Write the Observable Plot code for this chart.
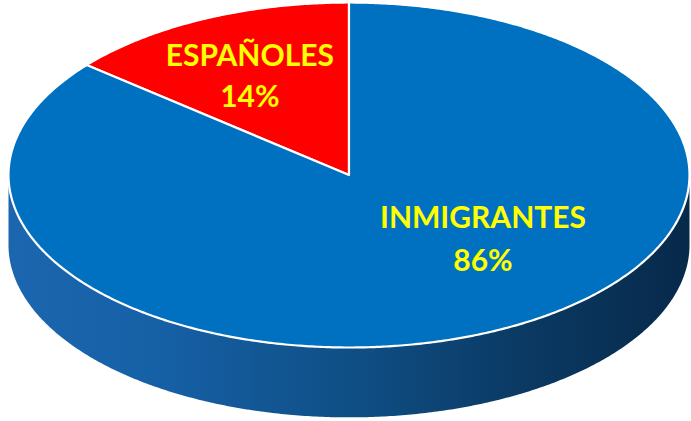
<!DOCTYPE html>
<html><head><meta charset="utf-8">
<script src="https://cdn.jsdelivr.net/npm/d3@7"></script>
<script src="https://cdn.jsdelivr.net/npm/@observablehq/plot@0.6"></script>
<style>html,body{margin:0;padding:0;background:#fff;overflow:hidden}</style>
</head><body><div id="chart"></div>
<script>
const categories = ["ESPAÑOLES", "INMIGRANTES"];
const values = [14, 86];
const percentLabels = ["14%", "86%"];
const topColors = ["#FF0000", "#0070C0"];
const sideFills = ["url(#sideRed)", "url(#sideBlue)"];
const depth = 0.405;

const arcs = d3.pie().sort(null).startAngle(0).endAngle(-2 * Math.PI)(values);
const step = Math.PI / 360;

function arcPoints(a0, a1, yOff, cat, fill, out) {
  const n = Math.max(2, Math.ceil(Math.abs(a1 - a0) / step));
  for (let k = 0; k <= n; k++) {
    const a = a0 + (a1 - a0) * k / n;
    out.push({cat, fill, x: Math.sin(a), y: -Math.cos(a) + yOff});
  }
}

// top faces
const topPts = [];
arcs.forEach((p, i) => {
  const lo = Math.min(p.startAngle, p.endAngle), hi = Math.max(p.startAngle, p.endAngle);
  topPts.push({cat: categories[i], fill: topColors[i], x: 0, y: 0});
  arcPoints(lo, hi, 0, categories[i], topColors[i], topPts);
  topPts.push({cat: categories[i], fill: topColors[i], x: 0, y: 0});
});

// side faces (front half only)
const sidePts = [];
arcs.forEach((p, i) => {
  const lo = Math.min(p.startAngle, p.endAngle), hi = Math.max(p.startAngle, p.endAngle);
  for (const k of [-1, 0, 1]) {
    const s = Math.max(lo + 2 * Math.PI * k, Math.PI / 2);
    const e = Math.min(hi + 2 * Math.PI * k, 3 * Math.PI / 2);
    if (e > s) {
      const id = categories[i] + k;
      arcPoints(s, e, 0, id, sideFills[i], sidePts);
      arcPoints(e, s, depth, id, sideFills[i], sidePts);
    }
  }
});

// labels
const labels = arcs.map((p, i) => {
  const mid = (p.startAngle + p.endAngle) / 2;
  const r = i === 0 ? 0.67 : 0.4;
  return {text: categories[i] + "\n" + percentLabels[i], x: r * Math.sin(mid), y: -r * Math.cos(mid), i};
});

const svg = Plot.plot({
  width: 691,
  height: 421,
  margin: 0,
  x: {domain: [-1, 1], range: [8, 689], axis: null},
  y: {domain: [-1, 1], range: [2, 347], axis: null},
  color: {type: "identity"},
  marks: [
    Plot.line(sidePts, {x: "x", y: "y", z: "cat", fill: "fill", stroke: "none", curve: "linear"}),
    Plot.line(topPts, {x: "x", y: "y", z: "cat", fill: "fill", stroke: "white", strokeWidth: 2.2, strokeLinejoin: "round", curve: "linear"}),
    Plot.text(labels.filter(d => d.i === 0), {x: "x", y: "y", text: "text", dx: -2, dy: 3, fill: "#FFFF00", fontSize: 30, fontWeight: "bold", fontFamily: "Lato", lineHeight: 1.36, textAnchor: "middle"}),
    Plot.text(labels.filter(d => d.i === 1), {x: "x", y: "y", text: "text", dx: 76, dy: -1.5, fill: "#FFFF00", fontSize: 30, fontWeight: "bold", fontFamily: "Lato", lineHeight: 1.43, textAnchor: "middle"})
  ]
});

const ns = "http://www.w3.org/2000/svg";
const defs = document.createElementNS(ns, "defs");
function grad(id, stops) {
  const g = document.createElementNS(ns, "linearGradient");
  g.setAttribute("id", id);
  g.setAttribute("x1", "0"); g.setAttribute("x2", "1");
  g.setAttribute("y1", "0"); g.setAttribute("y2", "0");
  for (const [o, c] of stops) {
    const s = document.createElementNS(ns, "stop");
    s.setAttribute("offset", o);
    s.setAttribute("stop-color", c);
    g.appendChild(s);
  }
  defs.appendChild(g);
}
grad("sideBlue", [[0, "#1b66ae"], [0.22, "#1660a6"], [0.5, "#0f4f86"], [0.75, "#0b3a64"], [1, "#07294a"]]);
grad("sideRed", [[0, "#d00000"], [1, "#600000"]]);
svg.insertBefore(defs, svg.firstChild);
document.getElementById("chart").appendChild(svg);
</script>
</body></html>
